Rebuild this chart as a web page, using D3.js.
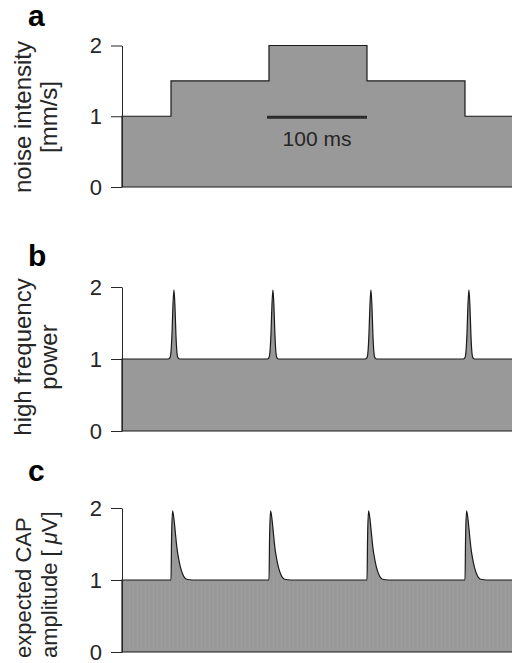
<!DOCTYPE html>
<html>
<head>
<meta charset="utf-8">
<script src="https://cdn.jsdelivr.net/npm/d3@7"></script>
<style>
  body { margin: 0; background: #fff; }
  svg { display: block; font-family: "Liberation Sans", Arial, Helvetica, sans-serif; }
</style>
</head>
<body>
<div id="chart"></div>
<script>
// time axis (ms) and tick values shared by the three panels
const timeDomain = [0, 400];
const yTicks = [0, 1, 2];

// a: noise intensity steps [time ms, mm/s]
const noiseSteps = [[0, 1], [50, 1.5], [150, 2], [250, 1.5], [350, 1], [400, 1]];
const scaleBarMs = [148, 250];

// b: high frequency power, baseline 1 with peaks at these times
const powerBaseline = 1;
const powerPeakTimes = [53, 154, 254, 354];
const powerPeakOffsets = [-6, -4, -3, -2, -1, 0, 1, 2, 3, 4, 6];
const powerPeakValues = [1, 1.02, 1.1, 1.35, 1.75, 1.96, 1.75, 1.35, 1.1, 1.02, 1];

// c: expected CAP amplitude, baseline 1, fast rise then decay
const capBaseline = 1;
const capPeakTimes = [50, 150, 250, 350];
const capPeakOffsets = [0, 0.6, 1.6, 3, 4.5, 6, 8, 9.6, 12, 16, 22];
const capPeakValues = [1, 1.6, 1.96, 1.85, 1.65, 1.45, 1.28, 1.18, 1.08, 1.01, 1];

const width = 512, height = 663;
const svg = d3.select('#chart').append('svg')
    .attr('width', width)
    .attr('height', height);

// faint vertical striping seen in the panel c fill
const defs = svg.append('defs');
const pat = defs.append('pattern')
    .attr('id', 'stripes')
    .attr('patternUnits', 'userSpaceOnUse')
    .attr('width', 4)
    .attr('height', 10);
pat.append('rect').attr('width', 4).attr('height', 10).attr('fill', '#989898');
pat.append('rect').attr('x', 1).attr('width', 1).attr('height', 10).attr('fill', '#9d9d9d');

const x = d3.scaleLinear().domain(timeDomain).range([122, 514]);

function peakSeries(baseline, times, offsets, values) {
    const pts = [[timeDomain[0], baseline]];
    times.forEach(t => {
        offsets.forEach((o, i) => pts.push([t + o, values[i]]));
    });
    pts.push([timeDomain[1], baseline]);
    return pts;
}

function panel(cfg) {
    const y = d3.scaleLinear().domain([0, 2]).range(cfg.yRange);
    const g = svg.append('g');

    const area = d3.area()
        .x(d => x(d[0]))
        .y0(y(0))
        .y1(d => y(d[1]))
        .curve(cfg.curve);

    g.append('path')
        .datum(cfg.data)
        .attr('d', area)
        .attr('fill', cfg.fill)
        .attr('stroke', '#1a1a1a')
        .attr('stroke-width', 1.2)
        .attr('stroke-linejoin', 'miter');

    const axis = g.append('g')
        .attr('transform', `translate(${x(0)},0)`)
        .call(d3.axisLeft(y).tickValues(yTicks).tickSize(11).tickSizeOuter(0).tickPadding(9)
            .tickFormat(d3.format('d')));
    axis.select('.domain').attr('stroke', '#262626').attr('stroke-width', 1);
    axis.selectAll('.tick line').attr('stroke', '#262626');
    axis.selectAll('.tick text')
        .attr('fill', '#262626')
        .attr('font-size', 22)
        .attr('font-family', '"Liberation Sans", Arial, sans-serif');

    cfg.label.forEach((line, i) => {
        const t = svg.append('text')
            .attr('transform', `translate(${31 + i * 26},${cfg.labelY}) rotate(-90)`)
            .attr('text-anchor', cfg.labelAnchor || 'middle')
            .attr('font-size', cfg.labelSize || 24)
            .attr('fill', '#262626');
        if (Array.isArray(line)) {
            line.forEach(part => t.append('tspan').attr('font-style', part.italic ? 'italic' : null).text(part.text));
        } else {
            t.text(line);
        }
    });

    svg.append('text')
        .attr('x', 28)
        .attr('y', cfg.letterY)
        .attr('font-size', 30)
        .attr('font-weight', 'bold')
        .attr('fill', '#000')
        .text(cfg.letter);

    return { g, y };
}

const pa = panel({
    letter: 'a', letterY: 26,
    yRange: [187, 45.5],
    labelY: 117,
    data: noiseSteps,
    curve: d3.curveStepAfter,
    fill: '#999',
    label: ['noise intensity', '[mm/s]']
});

// scale bar
pa.g.append('line')
    .attr('x1', x(scaleBarMs[0]))
    .attr('x2', x(scaleBarMs[1]))
    .attr('y1', pa.y(0.985))
    .attr('y2', pa.y(0.985))
    .attr('stroke', '#2b2b2b')
    .attr('stroke-width', 3);
pa.g.append('text')
    .attr('x', x((scaleBarMs[0] + scaleBarMs[1]) / 2))
    .attr('y', 146)
    .attr('text-anchor', 'middle')
    .attr('font-size', 21)
    .attr('fill', '#262626')
    .text('100 ms');

panel({
    letter: 'b', letterY: 266,
    yRange: [431, 287],
    labelY: 357,
    data: peakSeries(powerBaseline, powerPeakTimes, powerPeakOffsets, powerPeakValues),
    curve: d3.curveMonotoneX,
    fill: '#999',
    label: ['high frequency', 'power']
});

panel({
    letter: 'c', letterY: 481,
    yRange: [652, 508],
    labelY: 658,
    labelAnchor: 'start',
    labelSize: 22,
    data: peakSeries(capBaseline, capPeakTimes, capPeakOffsets, capPeakValues),
    curve: d3.curveMonotoneX,
    fill: 'url(#stripes)',
    label: ['expected CAP', [{ text: 'amplitude [ ' }, { text: 'μ', italic: true }, { text: 'V]' }]]
});
</script>
</body>
</html>
